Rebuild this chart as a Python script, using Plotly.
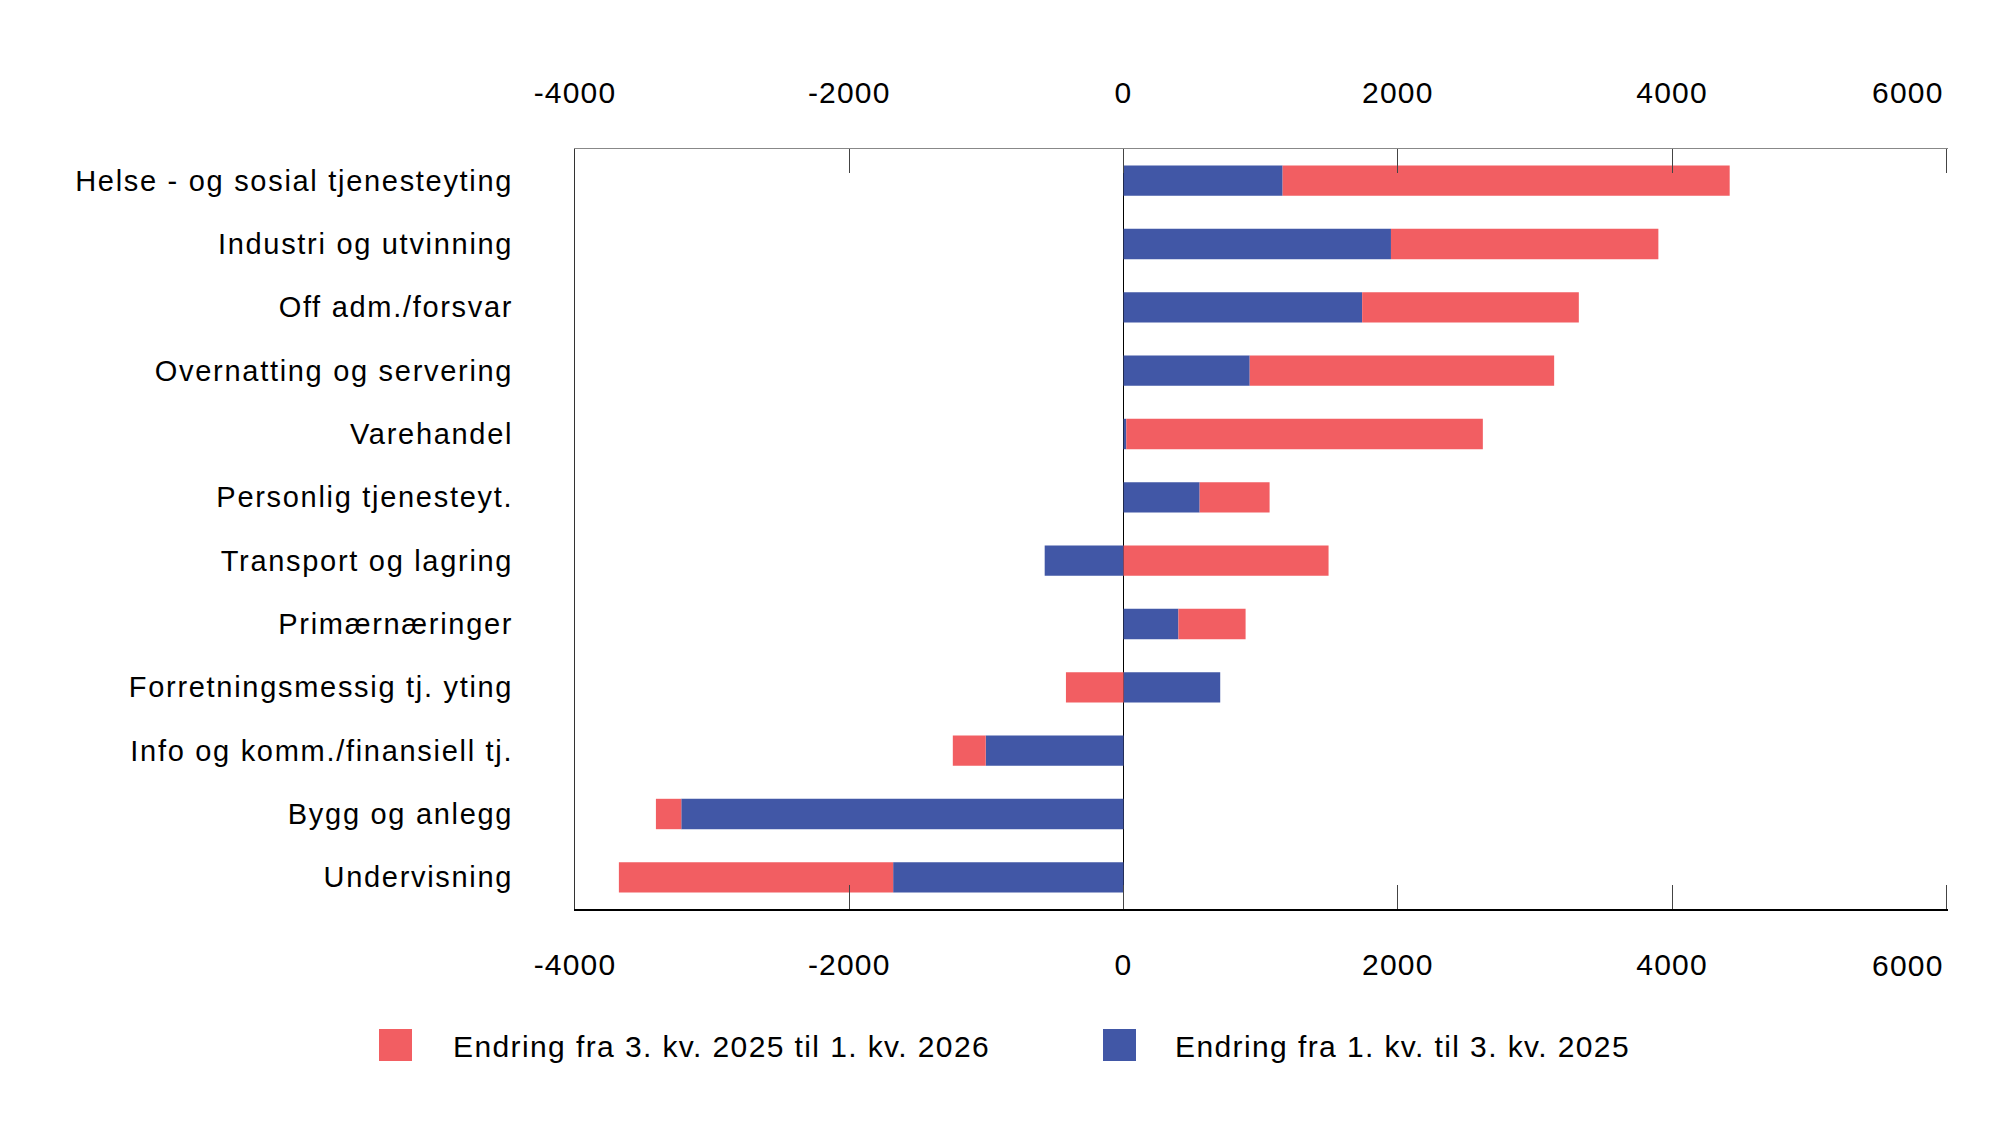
import plotly.graph_objects as go

categories = [
    "Helse - og sosial tjenesteyting",
    "Industri og utvinning",
    "Off adm./forsvar",
    "Overnatting og servering",
    "Varehandel",
    "Personlig tjenesteyt.",
    "Transport og lagring",
    "Primærnæringer",
    "Forretningsmessig tj. yting",
    "Info og komm./finansiell tj.",
    "Bygg og anlegg",
    "Undervisning",
]
# Endring fra 1. kv. til 3. kv. 2025 (blue)
blue_vals = [1160, 1950, 1740, 920, 20, 555, -575, 400, 705, -1005, -3225, -1680]
# Endring fra 3. kv. 2025 til 1. kv. 2026 (red)
red_vals = [3260, 1950, 1580, 2220, 2600, 510, 1495, 490, -420, -240, -185, -2000]

blue_name = "Endring fra 1. kv. til 3. kv. 2025"
red_name = "Endring fra 3. kv. 2025 til 1. kv. 2026"

x_tickvals = [-4000, -2000, 0, 2000, 4000, 6000]
x_ticktext = ["-4000", "-2000", "0", "2000", "4000", "6000"]

RED = "#F25E62"
BLUE = "#4157A6"
FONT = "Liberation Sans, Arial, sans-serif"
TICKFONT = dict(family=FONT, size=30, color="#000000")


def spaced(t, ls):
    return f"<span style='letter-spacing:{ls}px'>{t}</span>"


W, H = 2000, 1136
L, R, T, B = 575, 52, 149, 227
PW, PH = W - L - R, H - T - B


def px(x):
    return (x - L) / PW


def py(y):
    return (H - B - y) / PH


fig = go.Figure()
fig.add_trace(go.Bar(y=categories, x=blue_vals, orientation="h", name=blue_name,
                     marker=dict(color=BLUE, line=dict(width=0)), showlegend=False))
fig.add_trace(go.Bar(y=categories, x=red_vals, orientation="h", name=red_name,
                     marker=dict(color=RED, line=dict(width=0)), showlegend=False))

# the last label is right-aligned to the axis end, drawn separately below
ticktext = [spaced(t, 1.2) for t in x_ticktext[:-1]] + [""]
axis_common = dict(
    range=[-4000, 6012], tickvals=x_tickvals, ticktext=ticktext,
    ticks="inside", ticklen=24, tickwidth=1, tickcolor="#444444",
    showgrid=False, tickfont=TICKFONT,
    automargin=False,
)

fig.update_layout(
    width=W, height=H,
    margin=dict(l=L, r=R, t=T, b=B, autoexpand=False),
    paper_bgcolor="white", plot_bgcolor="white",
    barmode="relative", bargap=0.52,
    font=dict(family=FONT, color="#000000"),
    xaxis=dict(**axis_common, side="bottom", showline=True, linecolor="#000000", linewidth=2,
               zeroline=True, zerolinecolor="#000000", zerolinewidth=1,
               ticklabelstandoff=28),
    xaxis2=dict(**axis_common, side="top", overlaying="x", matches="x", showline=True,
                linecolor="#888888", linewidth=1, zeroline=False,
                ticklabelstandoff=33),
    yaxis=dict(autorange="reversed", showline=True, linecolor="#333333", linewidth=1,
               ticks="", showgrid=False, tickvals=categories, automargin=False,
               ticktext=[spaced(c, 1.7) for c in categories],
               tickfont=dict(family=FONT, size=29, color="#000000"),
               ticklabelstandoff=55),
)

# invisible trace to anchor the top axis
fig.add_trace(go.Scatter(x=[None], y=[None], xaxis="x2", yaxis="y", showlegend=False,
                         hoverinfo="skip"))

# last tick label (top and bottom), flush right with the axis end
for yy in (92, 965):
    fig.add_annotation(xref="x", yref="paper", x=x_tickvals[-1], y=py(yy),
                       xanchor="right", yanchor="middle", showarrow=False,
                       text=spaced(x_ticktext[-1], 1.2), font=TICKFONT)

# manual legend
legend_items = [(RED, red_name, 379, 451), (BLUE, blue_name, 1103, 1173)]
for color, name, sx, tx in legend_items:
    fig.add_shape(type="rect", xref="paper", yref="paper",
                  x0=px(sx), x1=px(sx + 33), y0=py(1061), y1=py(1029),
                  fillcolor=color, line=dict(width=0))
    fig.add_annotation(xref="paper", yref="paper", x=px(tx), y=py(1046),
                       xanchor="left", yanchor="middle", showarrow=False,
                       text=spaced(name, 1.4),
                       font=dict(family=FONT, size=30, color="#000000"))

fig.write_html("out.html")
